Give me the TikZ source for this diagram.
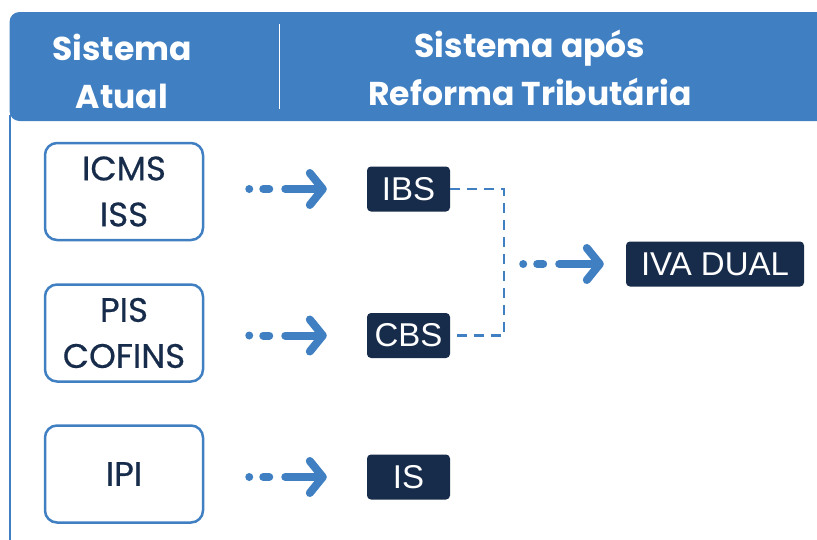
\documentclass[tikz,border=0pt]{standalone}
\usepackage{fontspec}
\setmainfont{Poppins}
\newfontfamily\boxfont{Poppins}[FakeBold=0.5]
\newfontfamily\tagfont{Liberation Sans}
\usetikzlibrary{arrows.meta,positioning}
\definecolor{headblue}{RGB}{64,128,194}
\definecolor{navy}{RGB}{23,43,74}
\tikzset{
        % Header labels
        node_head/.style={align=center, text=white, inner sep=0pt, font=\fontsize{33}{48}\selectfont\bfseries},
        % Current taxes
        node_old/.style={align=center, rectangle, rounded corners=12pt, draw=headblue, line width=2.5pt, fill=white, text=navy, minimum width=158pt, minimum height=97pt, inner sep=0pt, font=\boxfont\fontsize{34}{46}\selectfont},
        % New taxes
        node_new/.style={rectangle, rounded corners=4pt, fill=navy, text=white, minimum width=83pt, minimum height=45pt, inner sep=0pt, font=\tagfont\fontsize{33}{40}\selectfont},
        % Dotted arrows
        flow/.style={draw=headblue, line width=8pt, line cap=round, dash pattern=on 0pt off 14pt on 6pt off 16pt on 300pt, -{Straight Barb[round, length=13pt, width=32pt]}},
        % Dashed link
        link/.style={draw=headblue, line width=2.5pt, dash pattern=on 10pt off 7pt}
}

\begin{document}
\begin{tikzpicture}[x=1pt, y=-1pt]
            \useasboundingbox (0,0) rectangle (817,539);
            \clip (0,0) rectangle (817,539);
            % header
            \fill[headblue, rounded corners=10pt] (9.5,12) rectangle (860,121);
            \draw[headblue, line width=2.5pt] (10,115) -- (10,560);
            \draw[white, line width=1pt] (279,24) -- (279,109);
            \node[node_head] (head_old) at (122,71) {Sistema\\Atual};
            \node[node_head] (head_new) at (530,68) {Sistema após\\Reforma Tributária};

            \node[node_old] (icms) at (124,191.5) {ICMS\\ISS};
            \node[node_old] (pis) at (124,333) {PIS\\COFINS};
            \node[node_old] (ipi) at (124,474) {IPI};

            \node[node_new] (ibs) at (408.5,189) {IBS};
            \node[node_new] (cbs) at (408.5,335.5) {CBS};
            \node[node_new] (is) at (408.5,477) {IS};
            \node[node_new, minimum width=178pt] (iva) at (715,264) {IVA DUAL};

            \draw[flow, shorten <=45pt, shorten >=40pt] (icms.east |- ibs) -- (ibs.west);
            \draw[flow, shorten <=45pt, shorten >=40pt] (pis.east |- cbs) -- (cbs.west);
            \draw[flow, shorten <=45pt, shorten >=40pt] (ipi.east |- is) -- (is.west);

            \draw[link] (ibs.east) -- ++(54,0) coordinate (merge_top) |- (cbs.east);
            \coordinate (merge) at (merge_top |- iva);
            \draw[flow, shorten <=19pt, shorten >=22pt] (merge) -- (iva.west);
\end{tikzpicture}
\end{document}
